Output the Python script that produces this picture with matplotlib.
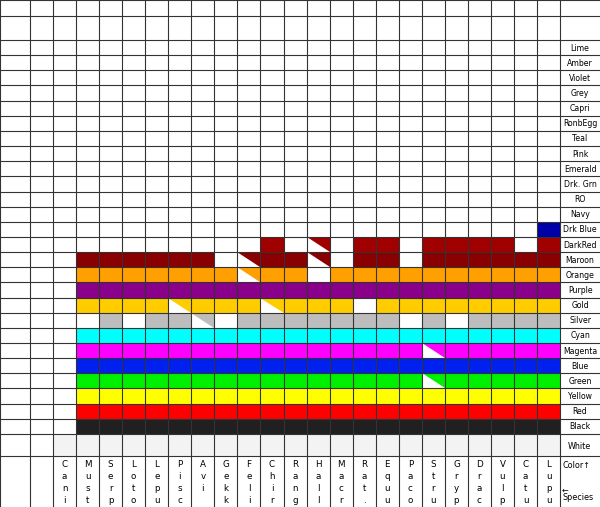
import matplotlib
matplotlib.use("Agg")
import matplotlib.pyplot as plt
from matplotlib.patches import Rectangle, Polygon

species = ["Cani","Must","Serp","Loto","Lepu","Pisc.","Avi","Gekk","Feli","Chir","Rang.","Halli",
           "Macr.","Rat.","Equu","Paco","Stru.","Gryph","Drac.","Vulp.","Catu","Lupu"]
color_names = ["Lime","Amber","Violet","Grey","Capri","RonbEgg","Teal","Pink","Emerald","Drk. Grn",
               "RO","Navy","Drk Blue","DarkRed","Maroon","Orange","Purple","Gold","Silver","Cyan",
               "Magenta","Blue","Green","Yellow","Red","Black"]
fill_colors = {"Drk Blue":"#0000a8","DarkRed":"#a00000","Maroon":"#8a0000","Orange":"#ff9f00",
               "Purple":"#8a008a","Gold":"#ffcc00","Silver":"#bdbdbd","Cyan":"#00ffff",
               "Magenta":"#ff00ff","Blue":"#0020f0","Green":"#00f000","Yellow":"#ffff00",
               "Red":"#ff0000","Black":"#202020"}
presence = {
    "Drk Blue": "0000000000000000000001",
    "DarkRed":  "00000000010p0110111101",
    "Maroon":   "01111110p11p0110111111",
    "Orange":   "01111111p110" + "1111111111",
    "Purple":   "0" + "1"*21,
    "Gold":     "01111p111p1110" + "11111111",
    "Silver":   "0010" + "11p0" + "1111111" + "0101111",
    "Cyan":     "0" + "1"*21,
    "Magenta":  "0" + "1"*15 + "p" + "1"*5,
    "Blue":     "0" + "1"*21,
    "Green":    "0" + "1"*15 + "p" + "1"*5,
    "Yellow":   "0" + "1"*21,
    "Red":      "0" + "1"*21,
    "Black":    "0" + "1"*21,
}

W, H = 600, 507
fig = plt.figure(figsize=(6, 5.07), dpi=100)
ax = fig.add_axes([0, 0, 1, 1])
ax.set_xlim(0, W); ax.set_ylim(H, 0); ax.axis("off")

x0, cw = 53, 23.05
xe = [0, 30] + [x0 + cw*i for i in range(len(species)+1)]
xlab = xe[-1]
y_top, rh = 40, 15.15
ye = [0, 16] + [y_top + rh*k for k in range(len(color_names)+1)]
y_white0 = ye[-1]; y_white1 = y_white0 + 22

for r, cname in enumerate(color_names):
    ya, yb = y_top + rh*r, y_top + rh*(r+1)
    for i, f in enumerate(presence.get(cname, "")):
        xa, xb = x0 + cw*i, x0 + cw*(i+1)
        if f == "1":
            ax.add_patch(Rectangle((xa, ya), cw, rh, color=fill_colors[cname], lw=0))
        elif f == "p":
            ax.add_patch(Polygon([(xa, ya), (xb, ya), (xb, yb)], color=fill_colors[cname], lw=0))
    ax.text(xlab + 20, (ya+yb)/2 + 0.5, cname, fontsize=5.6, va="center", ha="center")
ax.add_patch(Rectangle((x0, y_white0), cw*len(species), y_white1-y_white0, color="#f3f3f3", lw=0))
ax.text(xlab + 19, (y_white0+y_white1)/2 + 2, "White", fontsize=5.8, va="center", ha="center")
ax.text(xlab + 2, 465, "Color\u2191", fontsize=5.8, va="center")
ax.text(xlab + 2, 494, "\u2190\nSpecies", fontsize=5.8, va="center", linespacing=0.8)

for y in ye + [y_white1]:
    ax.plot([0, W], [y, y], color="#333", lw=0.8)
for x in xe:
    ax.plot([x, x], [0, H], color="#333", lw=0.8)

for i, s in enumerate(species):
    ax.text(x0 + cw*(i+0.5), 460, "\n".join(s), fontsize=6.3, ha="center", va="top",
            linespacing=1.45)

fig.savefig("out.png", dpi=100)
